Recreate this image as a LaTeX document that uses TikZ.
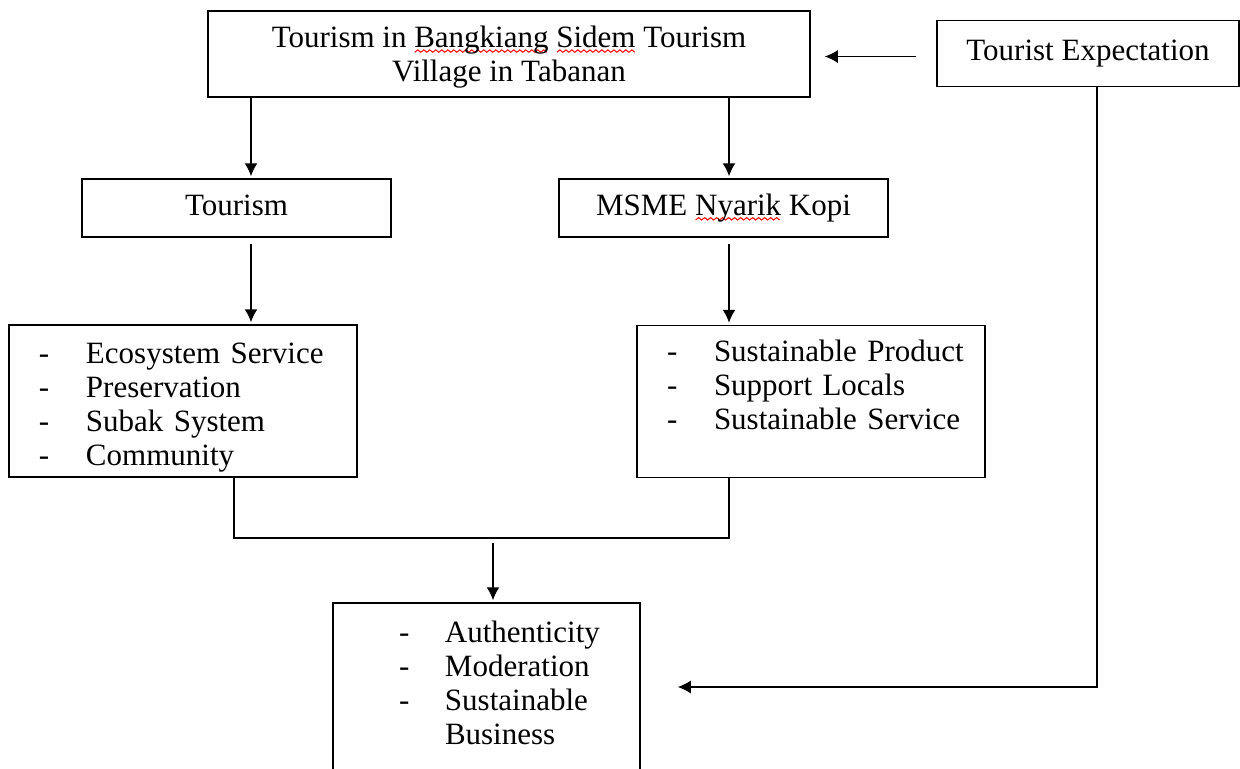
\documentclass[tikz,border=0pt]{standalone}
\usepackage{fontspec}
\setmainfont{Liberation Serif}
\usetikzlibrary{arrows.meta}
\newcount\wavecount
\newcommand{\spellwave}[1]{\setbox0=\hbox{#1}\wavecount=\wd0 \divide\wavecount by 196608
	\edef\wavesteps{\the\wavecount}%
	\hbox{\rlap{\smash{\raisebox{-2.75pt}{\tikz\draw[red, line width=0.5pt, x=1pt, y=1pt] (0,0)
		\foreach \k in {1,...,\wavesteps} {-- ++(1.5,1.2) -- ++(1.5,-1.2)};}}}\box0}}
\newcommand{\itm}[1]{\hspace*{15pt}\makebox[23.5pt][l]{-}#1}
\newcommand{\outitm}[1]{\hspace*{33pt}\makebox[23pt][l]{-}#1}
\begin{document}
\begin{tikzpicture}[x=0.5pt,y=-0.5pt,
	box/.style={draw, line width=0.75pt, inner sep=0pt, font=\fontsize{15.5}{17}\selectfont},
	single/.style={box, text height=10.5pt, text depth=3.5pt},
	listbox/.style={box, text width=174pt, align=left, minimum height=76pt},
	arr/.style={line width=0.75pt, -{Latex[length=6.5pt,width=6.5pt]}},
	link/.style={line width=0.75pt}]
				\useasboundingbox (0,0) rectangle (1240,768);
				\node[box, minimum width=301pt, minimum height=43pt, align=center] (village) at (509,54)
					{\rule{0pt}{13.6pt}Tourism in \spellwave{Bangkiang} \spellwave{Sidem} Tourism\\Village in Tabanan};
				\node[single, minimum width=151pt, minimum height=33pt] (expect) at (1088,53.5) {Tourist Expectation};
				\node[single, minimum width=154.5pt, minimum height=29pt] (tourism) at (236.5,208) {Tourism};
				\node[single, minimum width=164.5pt, minimum height=29pt] (msme) at (723.5,208) {MSME \spellwave{Nyarik} Kopi};
				\node[listbox] (eco) at (183,401)
					{\rule{0pt}{17.3pt}\itm{Ecosystem Service}\\\itm{Preservation}\\\itm{Subak System}\\\itm{Community}};
				\node[listbox] (product) at (811,401.5)
					{\itm{Sustainable Product}\\\itm{Support Locals}\\\itm{Sustainable Service}\\\mbox{}};
				\node[box, text width=153.5pt, align=left, minimum height=84pt] (outcome) at (486.5,687)
					{\outitm{Authenticity}\\\outitm{Moderation}\\\outitm{Sustainable}\\\hspace*{56pt}Business\vspace{4pt}};
				\coordinate (colL) at (251,0);
				\coordinate (colR) at (729,0);
				\coordinate (dropL) at (234,0);
				\coordinate (join) at (493,538);
				\coordinate (side) at (1097,0);
				\draw[arr] (village.south -| colL) -- ([yshift=1pt]tourism.north -| colL);
				\draw[arr] (village.south -| colR) -- ([yshift=1pt]msme.north -| colR);
				\draw[arr] ([yshift=-3pt]tourism.south -| colL) -- ([yshift=1pt]eco.north -| colL);
				\draw[arr] ([yshift=-3pt]msme.south -| colR) -- ([yshift=1pt]product.north -| colR);
				\draw[link] (eco.south -| dropL) |- (join) -| (product.south -| colR);
				\draw[arr] ([yshift=-2.5pt]join) -- ([yshift=1pt]outcome.north -| join);
				\draw[arr, shorten <=10pt, shorten >=7pt] ([yshift=-1.5pt]expect.west) -- ([yshift=-1.5pt]expect.west -| village.east);
				\draw[arr, shorten >=18.5pt] (expect.south -| side) |- (outcome.east);
			\end{tikzpicture}
\end{document}
